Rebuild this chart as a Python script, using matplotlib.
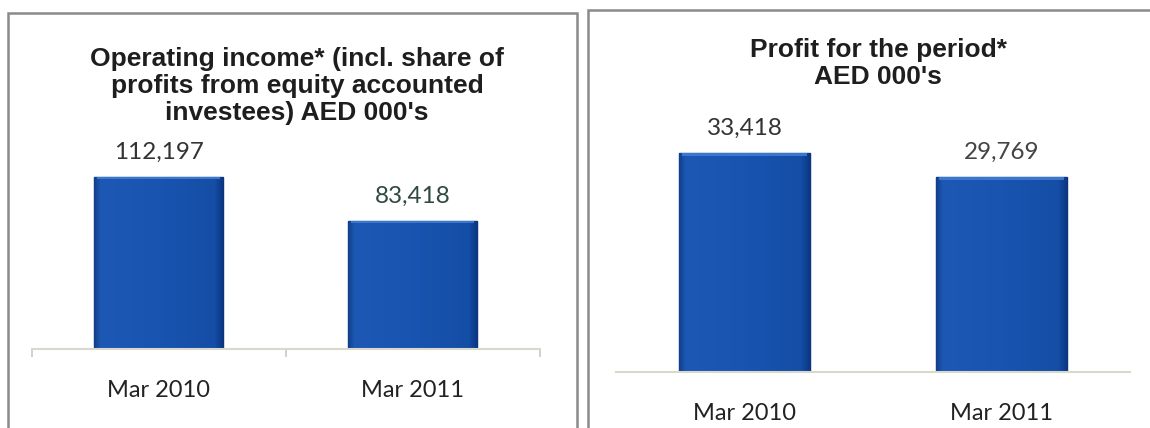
import numpy as np
import matplotlib
matplotlib.use("Agg")
import matplotlib.pyplot as plt
from matplotlib.patches import Rectangle
from matplotlib.colors import LinearSegmentedColormap

# Data
periods = ["Mar 2010", "Mar 2011"]
operating_income = [112197, 83418]
profit_for_period = [33418, 29769]
income_label_colors = ["#333333", "#2f4a40"]
profit_label_colors = ["#333333", "#444444"]

left_title = "Operating income* (incl. share of\nprofits from equity accounted\ninvestees) AED 000's"
right_title = "Profit for the period*\nAED 000's"

W, H = 1150, 428
DPI = 100
fig = plt.figure(figsize=(W / DPI, H / DPI), dpi=DPI)
fig.patch.set_facecolor("white")

# flat blue face with a narrow bevel on both sides
bar_cmap = LinearSegmentedColormap.from_list(
    "bevel", [(0.0, "#123f8c"), (0.05, "#1d59b4"), (0.5, "#1854b0"),
              (0.93, "#154ea6"), (1.0, "#0b3580")])
LABEL_FONT = "Lato"


def px_axes(x0, x1, y_top, y_axis):
    """ Axes placed by pixel coordinates (origin at top-left). """
    return fig.add_axes([x0 / W, (H - y_axis) / H, (x1 - x0) / W, (y_axis - y_top) / H])


def shade_bars(ax, bars):
    """ Paint each bar with a horizontal gradient clipped to its outline. """
    grad = np.linspace(0, 1, 128).reshape(1, -1)
    for b in bars:
        x, w, h = b.get_x(), b.get_width(), b.get_height()
        im = ax.imshow(grad, cmap=bar_cmap, aspect="auto", extent=(x, x + w, 0, h),
                       zorder=b.get_zorder() + 0.1, interpolation="bilinear")
        im.set_clip_path(b)
        # lighter cap along the top edge
        ax.bar(x + w / 2, h * 0.014, bottom=h * 0.986, width=w * 0.95,
               color="#3a78d0", linewidth=0, zorder=b.get_zorder() + 0.2)


def draw_panel(ax, values, label_colors, ymax, ticks):
    xs = np.arange(len(values))
    bars = ax.bar(xs, values, width=0.51, color="#1652ad", edgecolor="#0a3270",
                  linewidth=1.0, zorder=2)
    shade_bars(ax, bars)
    ax.set_xlim(-0.5, len(values) - 0.5)
    ax.set_ylim(0, ymax)
    for x, v, c in zip(xs, values, label_colors):
        ax.annotate(f"{v:,}", (x, v), xytext=(0, 18), textcoords="offset points",
                    ha="center", va="center", fontsize=17.5, color=c, family=LABEL_FONT)
    ax.set_xticks(xs)
    ax.set_xticklabels(periods, fontsize=17, color="#222222", family=LABEL_FONT)
    ax.tick_params(axis="x", which="major", length=0, pad=22)
    if ticks:
        ax.set_xticks(np.arange(-0.5, len(values)), minor=True)
        ax.tick_params(axis="x", which="minor", length=6, width=1.2, color="#c8c8c8")
    ax.set_yticks([])
    for side in ["top", "left", "right"]:
        ax.spines[side].set_visible(False)
    ax.spines["bottom"].set_color("#d8d8cc")
    ax.spines["bottom"].set_linewidth(1.5)
    ax.patch.set_alpha(0)


# Panel frames
fig.add_artist(Rectangle((8 / W, -0.1), (577 - 8) / W, (H - 13) / H + 0.1,
                         transform=fig.transFigure, fill=False, edgecolor="#8a8a8a", linewidth=1.8))
fig.add_artist(Rectangle((588 / W, -0.1), 0.6, (H - 10) / H + 0.1,
                         transform=fig.transFigure, fill=False, edgecolor="#8a8a8a", linewidth=1.8))

ax1 = px_axes(31.5, 539.5, 13, 349)
draw_panel(ax1, operating_income, income_label_colors, 112197 * 336 / 172, ticks=True)

ax2 = px_axes(616, 1130, 10, 372)
draw_panel(ax2, profit_for_period, profit_label_colors, 33418 * 362 / 219, ticks=False)

title_kw = dict(ha="center", va="center", fontsize=19, fontweight="bold",
                family="Liberation Sans", color="#1e1e1e", linespacing=1.18,
                multialignment="center")
fig.text(297 / W, 1 - 86 / H, left_title, **title_kw)
fig.text(878 / W, 1 - 63.5 / H, right_title, **title_kw)

fig.savefig("out.png", dpi=DPI, facecolor="white")
